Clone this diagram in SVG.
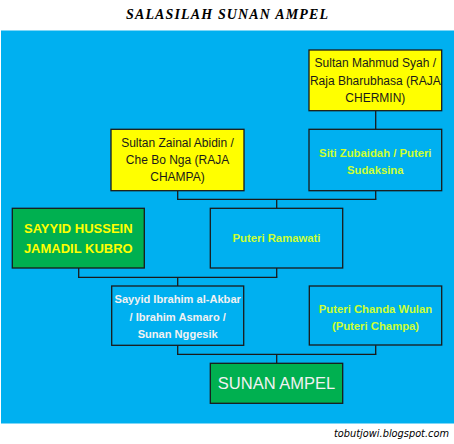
<svg xmlns="http://www.w3.org/2000/svg" width="454" height="444" viewBox="0 0 454 444">
<style>
.box{stroke:#1a1a1a;stroke-width:1.3}
.y{fill:#ffff00}
.b{fill:#00b0f0}
.g{fill:#00b050}
.t{font-family:"Liberation Sans",Arial,sans-serif;font-size:12px;text-anchor:middle}
.dark{fill:#1a1a1a}
.lime{fill:#ccff33;font-weight:bold;font-size:11.3px}
.white{fill:#f2f2f2;font-weight:bold;font-size:11.1px}
.big{fill:#ffff00;font-weight:bold;font-size:13px}
.huge{fill:#f2f2f2;font-size:16.5px}
.conn line{stroke:#1a1a1a;stroke-width:1.3}
</style>
<rect width="454" height="444" fill="#ffffff"/>
<text x="227" y="19" font-family="'Liberation Serif','Times New Roman',serif" font-size="14" font-weight="bold" font-style="italic" text-anchor="middle" textLength="202" lengthAdjust="spacing" fill="#000">SALASILAH SUNAN AMPEL</text>
<rect x="1" y="30.5" width="453" height="393" fill="#00b0f0"/>
<g id="connectors" class="conn">
<line x1="375.7" y1="110.7" x2="375.7" y2="129.3"/>
<line x1="177.7" y1="190.7" x2="177.7" y2="199.3"/>
<line x1="375.7" y1="190.7" x2="375.7" y2="199.3"/>
<line x1="177" y1="199.3" x2="376.4" y2="199.3"/>
<line x1="276.7" y1="199.3" x2="276.7" y2="208.3"/>
<line x1="78.7" y1="268" x2="78.7" y2="277.3"/>
<line x1="276.7" y1="268" x2="276.7" y2="277.3"/>
<line x1="78" y1="277.3" x2="277.4" y2="277.3"/>
<line x1="177.7" y1="277.3" x2="177.7" y2="286"/>
<line x1="177.7" y1="345.3" x2="177.7" y2="354.3"/>
<line x1="375.7" y1="345.3" x2="375.7" y2="354.3"/>
<line x1="177" y1="354.3" x2="376.4" y2="354.3"/>
<line x1="276.7" y1="354.3" x2="276.7" y2="363.3"/>
</g>
<g id="mahmud">
<rect class="box y" x="309" y="50" width="132.7" height="60.7"/>
<text class="t dark" x="375.3" y="67.3">Sultan Mahmud Syah /</text>
<text class="t dark" x="375.3" y="85">Raja Bharubhasa (RAJA</text>
<text class="t dark" x="375.3" y="101.7">CHERMIN)</text>
</g>
<g id="zainal">
<rect class="box y" x="111" y="129.3" width="133" height="61.4"/>
<text class="t dark" x="177.5" y="146.5">Sultan Zainal Abidin /</text>
<text class="t dark" x="177.5" y="164">Che Bo Nga (RAJA</text>
<text class="t dark" x="177.5" y="181">CHAMPA)</text>
</g>
<g id="siti">
<rect class="box b" x="309" y="129.3" width="132.7" height="61.4"/>
<text class="t lime" x="375.3" y="157">Siti Zubaidah / Puteri</text>
<text class="t lime" x="375.3" y="173.5">Sudaksina</text>
</g>
<g id="hussein">
<rect class="box g" x="12.3" y="208.3" width="132" height="59.7"/>
<text class="t big" x="78.3" y="232.7">SAYYID HUSSEIN</text>
<text class="t big" x="78.3" y="252.7">JAMADIL KUBRO</text>
</g>
<g id="ramawati">
<rect class="box b" x="210.3" y="208.3" width="132.4" height="59.7"/>
<text class="t lime" x="276.5" y="242">Puteri Ramawati</text>
</g>
<g id="ibrahim">
<rect class="box b" x="111.7" y="286" width="132" height="59.3"/>
<text class="t white" x="177.7" y="303">Sayyid Ibrahim al-Akbar</text>
<text class="t white" x="177.7" y="320.5">/ Ibrahim Asmaro /</text>
<text class="t white" x="177.7" y="338">Sunan Nggesik</text>
</g>
<g id="chanda">
<rect class="box b" x="309.3" y="286" width="132.4" height="59"/>
<text class="t lime" x="375.5" y="312.5">Puteri Chanda Wulan</text>
<text class="t lime" x="375.5" y="329.5">(Puteri Champa)</text>
</g>
<g id="ampel">
<rect class="box g" x="210.3" y="363.3" width="132.4" height="40"/>
<text class="t huge" x="276.5" y="389.3">SUNAN AMPEL</text>
</g>
<text x="449" y="437" font-family="'DejaVu Sans',sans-serif" font-size="10" font-style="italic" text-anchor="end" textLength="115" lengthAdjust="spacingAndGlyphs" fill="#000">tobutjowi.blogspot.com</text>
</svg>
